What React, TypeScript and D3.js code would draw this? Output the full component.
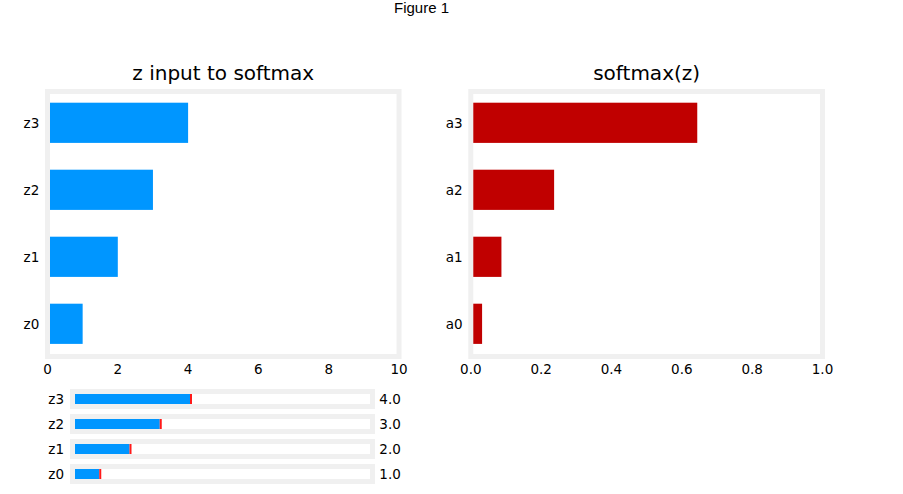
import * as d3 from 'd3';

const zLabels = ['z0', 'z1', 'z2', 'z3'];
const zValues = [1, 2, 3, 4];
const aLabels = ['a0', 'a1', 'a2', 'a3'];
const aValues = [0.0321, 0.0871, 0.2369, 0.6439];
const zTicks = [0, 2, 4, 6, 8, 10];
const aTicks = [0, 0.2, 0.4, 0.6, 0.8, 1.0];

const W = 903;
const H = 494;
const FONT = 'DejaVu Sans, sans-serif';
const SPINE = '#f0f0f0';
const BLUE = '#0096ff';
const DARKRED = '#c00000';

type PanelProps = {
  title: string;
  labels: string[];
  values: number[];
  ticks: number[];
  fmt: (v: number) => string;
  domain: [number, number];
  x0: number;
  x1: number;
  color: string;
};

const top = 91.5;
const bottom = 356.5;

const Panel = ({ title, labels, values, ticks, fmt, domain, x0, x1, color }: PanelProps) => {
  const x = d3.scaleLinear().domain(domain).range([x0, x1]);
  const y = d3.scaleLinear().domain([-0.5, 3.5]).range([357.3, 89.3]);
  const bh = y(0) - y(0.6);
  return (
    <g>
      {values.map((v, i) => (
        <rect key={i} x={x(0)} y={y(i) - bh / 2} width={x(v) - x(0)} height={bh} fill={color} />
      ))}
      <rect x={x0} y={top} width={x1 - x0} height={bottom - top} fill="none" stroke={SPINE} strokeWidth={5} />
      {labels.map((l, i) => (
        <text key={l} x={x0 - 8.2} y={y(i)} textAnchor="end" dominantBaseline="central" fontSize={13.5}>
          {l}
        </text>
      ))}
      {ticks.map((t) => (
        <text key={t} x={x(t)} y={373.5} textAnchor="middle" fontSize={13.5}>
          {fmt(t)}
        </text>
      ))}
      <text x={(x0 + x1) / 2} y={80} textAnchor="middle" fontSize={20}>
        {title}
      </text>
    </g>
  );
};

const Sliders = () => {
  const x = d3.scaleLinear().domain([0, 10]).range([69, 371.5]);
  const rows = [...zLabels].reverse();
  const ry = d3.scalePoint<string>().domain(rows).range([399, 474]);
  return (
    <g>
      {rows.map((l) => {
        const v = zValues[zLabels.indexOf(l)];
        const cy = ry(l) as number;
        return (
          <g key={l}>
            <rect x={72.5} y={cy - 7.5} width={300} height={15} fill="#fff" stroke={SPINE} strokeWidth={5} />
            <rect x={75} y={cy - 5} width={x(v) - 75} height={10} fill={BLUE} />
            <rect x={x(v)} y={cy - 5} width={2} height={10} fill="#ff1a1a" />
            <text x={64} y={cy - 0.5} textAnchor="end" dominantBaseline="central" fontSize={13.5}>
              {l}
            </text>
            <text x={379.3} y={cy - 0.5} textAnchor="start" dominantBaseline="central" fontSize={13.5}>
              {v.toFixed(1)}
            </text>
          </g>
        );
      })}
    </g>
  );
};

export default function App() {
  return (
    <svg
      width={W}
      height={H}
      style={{ position: 'absolute', left: 0, top: 0, background: '#fff' }}
      fontFamily={FONT}
      fill="#000"
    >
      <text x={421.5} y={13} textAnchor="middle" fontSize={15} fontFamily="Liberation Sans, Arial, sans-serif">
        Figure 1
      </text>
      <Panel
        title="z input to softmax"
        labels={zLabels}
        values={zValues}
        ticks={zTicks}
        fmt={(v) => String(v)}
        domain={[0, 10]}
        x0={47.5}
        x1={399}
        color={BLUE}
      />
      <Panel
        title="softmax(z)"
        labels={aLabels}
        values={aValues}
        ticks={aTicks}
        fmt={(v) => v.toFixed(1)}
        domain={[0, 1]}
        x0={470.8}
        x1={822.5}
        color={DARKRED}
      />
      <Sliders />
    </svg>
  );
}
